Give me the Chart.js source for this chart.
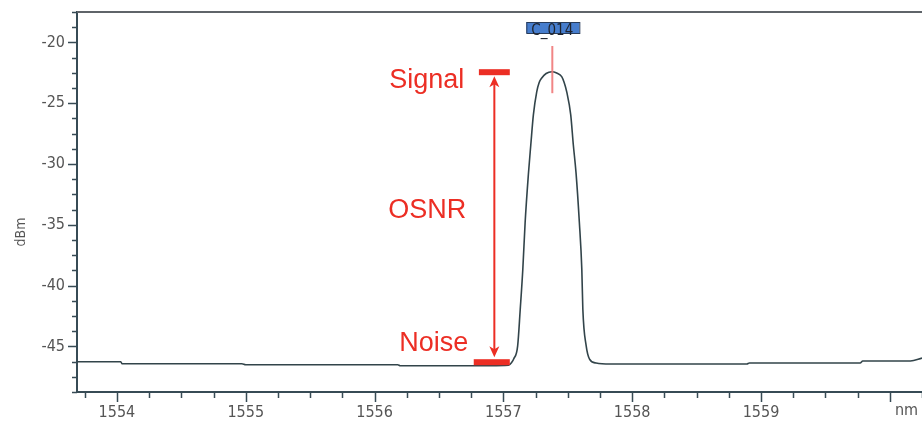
<!DOCTYPE html>
<html>
<head>
<meta charset="utf-8">
<script src="https://cdn.jsdelivr.net/npm/chart.js@4"></script>
<style>
html,body{margin:0;padding:0;background:#fff;}
#wrap{width:922px;height:423px;position:relative;}
</style>
</head>
<body>
<div id="wrap"><canvas id="c" width="922" height="423"></canvas></div>
<script>
// Wavelength (nm) and power (dBm)
const wavelengths = [1553.690,1554.030,1554.040,1554.970,1555.000,1556.180,1556.200,1556.740,1556.900,1557.040,1557.065,1557.080,1557.111,1557.131,1557.151,1557.169,1557.194,1557.213,1557.233,1557.259,1557.278,1557.298,1557.332,1557.376,1557.414,1557.453,1557.472,1557.492,1557.523,1557.543,1557.564,1557.590,1557.609,1557.617,1557.643,1557.669,1557.720,1557.830,1558.890,1558.910,1559.770,1559.790,1560.160,1560.250];
const power = [-46.26,-46.26,-46.43,-46.43,-46.51,-46.51,-46.59,-46.59,-46.59,-46.55,-46.31,-46.04,-44.95,-41.94,-38.66,-34.81,-30.88,-28.42,-25.96,-24.07,-23.30,-22.93,-22.56,-22.41,-22.52,-22.82,-23.30,-24.07,-25.96,-28.42,-30.71,-34.81,-38.66,-41.94,-44.95,-46.04,-46.37,-46.45,-46.45,-46.37,-46.37,-46.20,-46.20,-45.96];
const yTickLabels = [-20,-25,-30,-35,-40,-45];
const xTickLabels = [1554,1555,1556,1557,1558,1559];
const annotationTexts = ["Signal","OSNR","Noise"];
const signalLevel = -22.45, noiseLevel = -46.3, osnrArrowX = 1556.93;
const signalBar = [1556.81,1557.05], noiseBar = [1556.77,1557.05];
const markerX = 1557.38, markerLabel = "C_014";

const RED = 'rgb(236,46,36)';
const GREY = 'rgb(85,85,85)';
const TICKFONT = '"DejaVu Sans Condensed","DejaVu Sans",sans-serif';
const near = (v,t)=>Math.abs(v-t)<1e-6;
const noPad = (s)=>{ s.paddingLeft=0; s.paddingRight=0; s.paddingTop=0; s.paddingBottom=0; };

const deco = {
  id:'deco',
  afterDraw(chart){
    const {ctx, chartArea:a, scales:{x,y}} = chart;
    ctx.save();
    // top border
    ctx.strokeStyle='rgb(95,100,105)'; ctx.lineWidth=2;
    ctx.beginPath(); ctx.moveTo(a.left, a.top); ctx.lineTo(a.right, a.top); ctx.stroke();
    // tick marks
    ctx.strokeStyle='rgb(55,75,85)'; ctx.lineWidth=1.5;
    x.ticks.forEach(t=>{
      const px=Math.round(x.getPixelForValue(t.value))+0.5;
      const major = near(t.value, Math.round(t.value));
      ctx.beginPath(); ctx.moveTo(px,a.bottom); ctx.lineTo(px,a.bottom+(major?10:6)); ctx.stroke();
    });
    y.ticks.forEach(t=>{
      const py=Math.round(y.getPixelForValue(t.value))+0.5;
      const major = near(t.value/5, Math.round(t.value/5));
      ctx.beginPath(); ctx.moveTo(a.left,py); ctx.lineTo(a.left-(major?9:5),py); ctx.stroke();
    });
    // unit labels
    ctx.fillStyle=GREY;
    ctx.font='16px '+TICKFONT;
    ctx.textAlign='center'; ctx.textBaseline='middle';
    ctx.fillText('nm', x.getPixelForValue(1560.13), a.bottom+19);
    ctx.save();
    ctx.translate(21, (a.top+a.bottom)/2+30);
    ctx.rotate(-Math.PI/2);
    ctx.font='14px '+TICKFONT;
    ctx.fillText('dBm', 0, 0);
    ctx.restore();

    // marker line + label
    const mx = x.getPixelForValue(markerX);
    ctx.strokeStyle='rgba(240,120,120,0.9)'; ctx.lineWidth=2;
    ctx.beginPath(); ctx.moveTo(mx, a.top+34); ctx.lineTo(mx, y.getPixelForValue(signalLevel)+21); ctx.stroke();
    ctx.fillStyle='rgb(70,125,205)';
    ctx.fillRect(mx-26, a.top+10, 53, 11);
    ctx.strokeStyle='rgb(40,60,90)'; ctx.lineWidth=1;
    ctx.strokeRect(mx-26+0.5, a.top+10+0.5, 53, 11);
    ctx.fillStyle='rgb(30,35,45)';
    ctx.font='15px '+TICKFONT;
    ctx.textAlign='center'; ctx.textBaseline='alphabetic';
    ctx.fillText(markerLabel, mx, a.top+23);

    // signal / noise bars
    const sy = y.getPixelForValue(signalLevel), ny = y.getPixelForValue(noiseLevel);
    ctx.fillStyle=RED;
    ctx.fillRect(x.getPixelForValue(signalBar[0]), sy-3, x.getPixelForValue(signalBar[1])-x.getPixelForValue(signalBar[0]), 6);
    ctx.fillRect(x.getPixelForValue(noiseBar[0]), ny-3, x.getPixelForValue(noiseBar[1])-x.getPixelForValue(noiseBar[0]), 6);
    // arrow
    const ax = x.getPixelForValue(osnrArrowX);
    const top = sy+4, bot = ny-5;
    ctx.strokeStyle=RED; ctx.lineWidth=2;
    ctx.beginPath(); ctx.moveTo(ax, top+6); ctx.lineTo(ax, bot-6); ctx.stroke();
    ctx.beginPath(); ctx.moveTo(ax, top); ctx.lineTo(ax-5, top+11); ctx.lineTo(ax, top+8); ctx.lineTo(ax+5, top+11); ctx.closePath(); ctx.fill();
    ctx.beginPath(); ctx.moveTo(ax, bot); ctx.lineTo(ax-5, bot-11); ctx.lineTo(ax, bot-8); ctx.lineTo(ax+5, bot-11); ctx.closePath(); ctx.fill();
    // texts
    ctx.fillStyle=RED;
    ctx.font='27px "Liberation Sans",Arial,sans-serif';
    ctx.textAlign='right'; ctx.textBaseline='alphabetic';
    ctx.fillText(annotationTexts[0], ax-30, sy+16);
    ctx.fillText(annotationTexts[1], ax-28, (sy+ny)/2+1);
    ctx.fillText(annotationTexts[2], ax-26, ny-11);
    ctx.restore();
  }
};

new Chart(document.getElementById('c'), {
  type:'line',
  data:{ datasets:[{
    data: wavelengths.map((w,i)=>({x:w, y:power[i]})),
    borderColor:'rgb(50,68,74)', borderWidth:1.6, pointRadius:0,
    cubicInterpolationMode:'monotone', fill:false
  }]},
  options:{
    responsive:false, animation:false, devicePixelRatio:1,
    layout:{padding:{top:12,right:0,left:0,bottom:0}},
    plugins:{legend:{display:false}, tooltip:{enabled:false}},
    scales:{
      x:{ type:'linear', min:1553.69, max:1560.25,
        grid:{display:false, drawTicks:false},
        border:{display:true, color:'rgb(55,75,85)', width:2},
        ticks:{ stepSize:0.25, includeBounds:false, autoSkip:false, maxRotation:0, padding:11,
          color:GREY, font:{family:TICKFONT, size:16},
          callback:(v)=> (near(v,Math.round(v)) && xTickLabels.includes(Math.round(v))) ? String(Math.round(v)) : '' },
        afterFit:(s)=>{ s.height = 31; noPad(s); }
      },
      y:{ min:-48.75, max:-17.5,
        grid:{display:false, drawTicks:false},
        border:{display:true, color:'rgb(55,75,85)', width:2},
        ticks:{ stepSize:1.25, includeBounds:false, autoSkip:false, padding:12,
          color:GREY, font:{family:TICKFONT, size:16},
          callback:(v)=>{ const r=Math.round(v); return (near(v,r) && yTickLabels.includes(r)) ? String(r) : ''; } },
        afterFit:(s)=>{ s.width = 77; noPad(s); }
      }
    }
  },
  plugins:[deco]
});
</script>
</body>
</html>
